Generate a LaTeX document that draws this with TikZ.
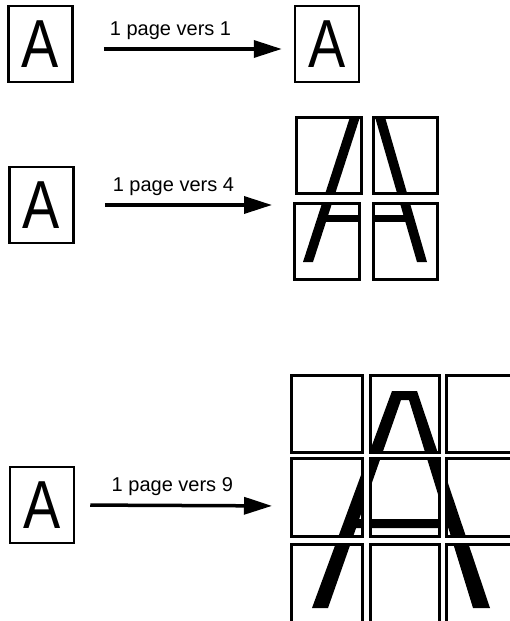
\documentclass[tikz,border=0pt]{standalone}
\usepackage{fontspec}
\setmainfont{Liberation Sans}
\usetikzlibrary{arrows.meta}

\tikzset{
  page/.style={draw, line width=2.5pt, minimum width=64pt, minimum height=76pt,
    inner sep=0pt, font=\fontsize{68}{68}\selectfont},
  tilebox/.style={draw, line width=3pt},
  arr/.style={line width=3.5pt, -{Triangle[length=28pt,width=17pt]}},
  lbl/.style={above=8pt, inner sep=0pt, font=\fontsize{20}{20}\selectfont}
}

\begin{document}
\begin{tikzpicture}[x=1pt,y=-1pt]
  \useasboundingbox (0,0) rectangle (510,621);
  % three source pages
  \node[page] (src1) at (40.5,44) {\scalebox{0.82}[1]{A}};
  \node[page] (src2) at (41.5,205) {\scalebox{0.82}[1]{A}};
  \node[page] (src3) at (42,505) {\scalebox{0.82}[1]{A}};
  % one page
  \node[page] (dst1) at (327,44) {\scalebox{0.82}[1]{A}};
  % four tiles
  \coordinate (grid4) at (294,205);
  \foreach \x/\y/\w/\h in {296/117/65/76, 373/117/64/76, 294/203/65/76, 373/203/64/76} {
    \begin{scope}
      \clip (\x,\y) rectangle ++(\w,\h);
      \fill (303,262) -- (350,117) -- (360,117) -- (313,262) -- cycle;
      \fill (375,117) -- (385,117) -- (427,262) -- (417,262) -- cycle;
      \fill (320,215) rectangle (409,222);
    \end{scope}
    \draw[tilebox] (\x,\y) rectangle ++(\w,\h);
  }
  % nine tiles
  \coordinate (grid9) at (291,506);
  \foreach \x/\w in {291/71, 370/69, 446/70}
    \foreach \y/\h in {375/77, 458/78, 544/80} {
      \begin{scope}
        \clip (\x,\y) rectangle ++(\w,\h);
        \fill[even odd rule] (312,608) -- (392,391) -- (417,391) -- (490,608) -- (473,608)
          -- (448.4,528) -- (356.1,528) -- (328,608) -- cycle
          (359.2,519) -- (401,400) -- (409,400) -- (445.6,519) -- cycle;
      \end{scope}
      \draw[tilebox] (\x,\y) rectangle ++(\w,\h);
    }
  % three arrows
  \draw[arr, shorten <=30pt, shorten >=12pt] ([yshift=-5pt]src1.east)
    -- node[lbl, pos=0.44] {1 page vers 1} ([yshift=-5pt]dst1.west);
  \draw[arr, shorten <=30pt, shorten >=22pt] (src2.east)
    -- node[lbl, pos=0.45] {1 page vers 4} (grid4);
  \draw[arr, shorten <=15pt, shorten >=19pt] (src3.east)
    -- node[lbl, pos=0.45] {1 page vers 9} (grid9);
\end{tikzpicture}
\end{document}
